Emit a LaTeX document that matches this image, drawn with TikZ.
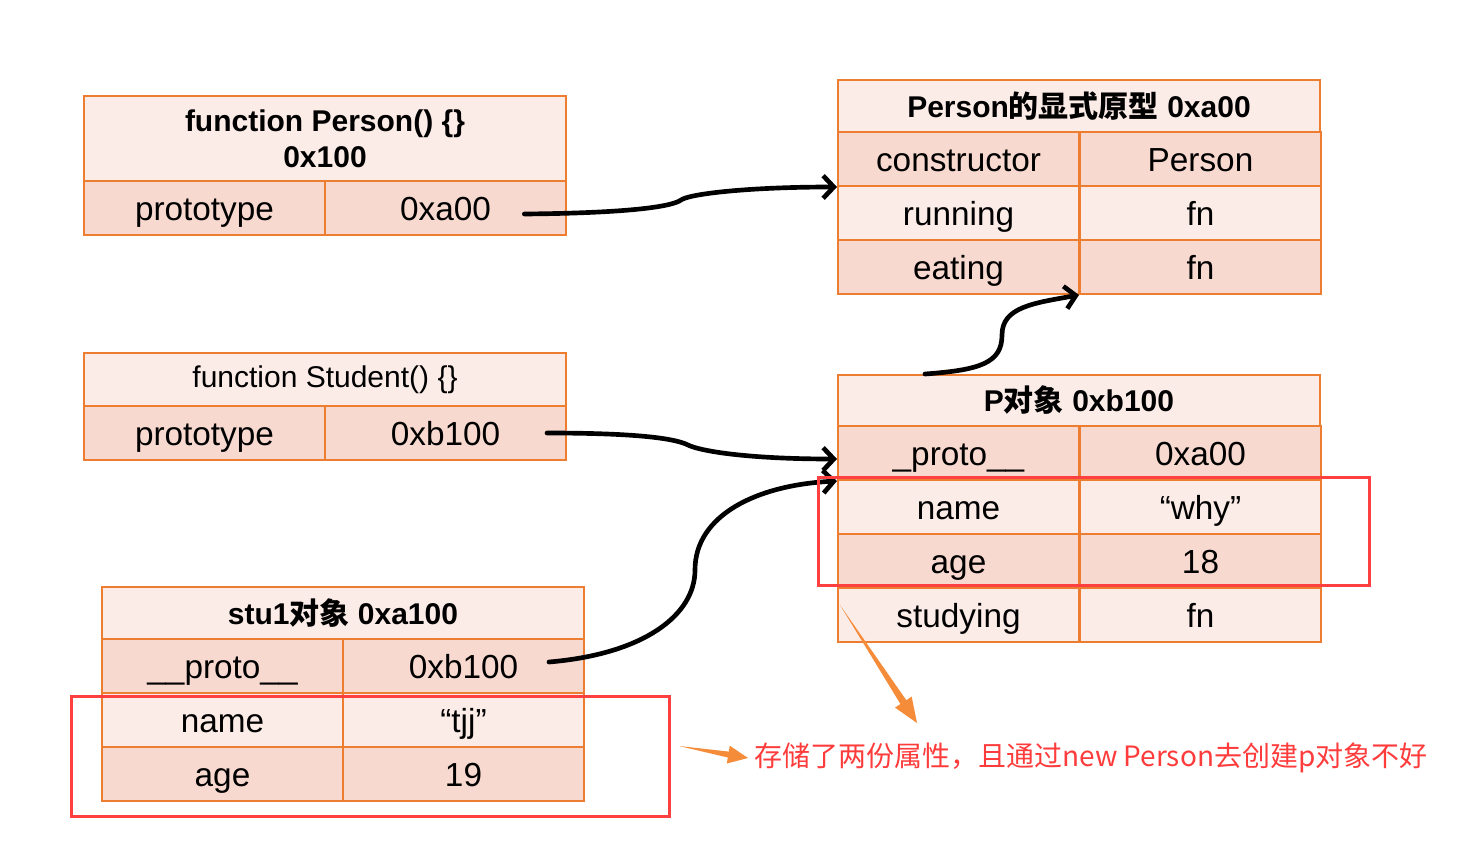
\documentclass[tikz,border=0pt]{standalone}
\usepackage{fontspec}
\setmainfont{Liberation Sans}
\newfontfamily\cjk{Noto Sans CJK SC}
\usetikzlibrary{arrows.meta}
\begin{document}
\begin{tikzpicture}[x=0.75pt, y=-0.75pt, >={Straight Barb[length=8pt,width=17pt]},
  cell/.style={draw=boxorange, line width=1.5pt, anchor=north west, inner sep=0pt,
    minimum width=180.75pt, minimum height=40.5pt, text height=18pt, text depth=0pt,
    font=\fontsize{25pt}{30pt}\selectfont},
  dark/.style={cell, fill=cellDark},
  light/.style={cell, fill=cellLight},
  head/.style={light, minimum width=361.5pt, minimum height=39pt, align=center,
    text height=, text depth=, font=\bfseries\fontsize{22.5pt}{27pt}\selectfont},
  ptr/.style={->, line width=3.5pt, line cap=round},
  redline/.style={draw=boxred, line width=2.25pt}]
  \definecolor{boxorange}{RGB}{237,125,49}
  \definecolor{cellDark}{RGB}{248,217,207}
  \definecolor{cellLight}{RGB}{252,236,232}
  \definecolor{boxred}{RGB}{255,64,64}
  \definecolor{notered}{RGB}{255,60,60}
  \definecolor{noteorange}{RGB}{245,140,58}

  \useasboundingbox (0,0) rectangle (1460,853);

  % function Person
  \node[head, minimum height=63.75pt] (aHead) at (83,95) {function Person() \{\}\\0x100};
  \node[dark] (aKey) at (83,180) {prototype};
  \node[dark] (aVal) at (324,180) {0xa00};

  % Person的显式原型
  \node[head] (bHead) at (837,79) {Person{\cjk 的显式原型} 0xa00};
  \node[dark] (bConsK) at (837,131) {constructor};
  \node[dark] (bConsV) at (1079,131) {Person};
  \node[light] (bRunK) at (837,185) {running};
  \node[light] (bRunV) at (1079,185) {fn};
  \node[dark] (bEatK) at (837,239) {eating};
  \node[dark] (bEatV) at (1079,239) {fn};

  % function Student
  \node[head, minimum height=39.75pt, font=\fontsize{22.5pt}{27pt}\selectfont] (cHead) at (83,352) {function Student() \{\}};
  \node[dark] (cKey) at (83,405) {prototype};
  \node[dark] (cVal) at (324,405) {0xb100};

  % P对象
  \node[head, minimum height=38.25pt] (dHead) at (837,374) {P{\cjk 对象} 0xb100};
  \node[dark] (dProtoK) at (837,425) {\_proto\_\_};
  \node[dark] (dProtoV) at (1079,425) {0xa00};
  \node[light] (dNameK) at (837,479) {name};
  \node[light] (dNameV) at (1079,479) {“why”};
  \node[dark] (dAgeK) at (837,533) {age};
  \node[dark] (dAgeV) at (1079,533) {18};
  \node[light] (dStudyK) at (837,587) {studying};
  \node[light] (dStudyV) at (1079,587) {fn};

  % stu1对象
  \node[head] (eHead) at (101,586) {stu1{\cjk 对象} 0xa100};
  \node[dark] (eProtoK) at (101,638) {\_\_proto\_\_};
  \node[dark] (eProtoV) at (342,638) {0xb100};
  \node[light] (eNameK) at (101,692) {name};
  \node[light] (eNameV) at (342,692) {“tjj”};
  \node[dark] (eAgeK) at (101,746) {age};
  \node[dark] (eAgeV) at (342,746) {19};

  % 指针
  \draw[ptr] ([xshift=-32pt,yshift=-4.5pt]aVal.east) .. controls +(110,-1) and +(-8,6) .. (681,200)
    .. controls +(8,-6) and +(-90,0) .. (bConsK.south west);
  \draw[ptr] ([xshift=66pt]dHead.north west) .. controls +(55,-4) and +(0,28) .. (1002,335)
    .. controls +(0,-28) and +(-45,8) .. (bEatV.south west);
  \draw[ptr] ([xshift=-15pt]cVal.east) .. controls +(95,0) and +(-12,-6) .. (688,445)
    .. controls +(12,6) and +(-90,0) .. ([yshift=-4.5pt]dProtoK.west);
  \draw[ptr] ([xshift=-27pt,yshift=3pt]eProtoV.east) .. controls +(95,-8) and +(0,45) .. (695,570)
    .. controls +(0,-55) and +(-80,4) .. (dProtoK.south west);

  % 标注
  \draw[redline] (818,477) rectangle (1369,585);
  \draw[redline] (71,696) rectangle (669,816);
  \fill[noteorange] (840,605) -- (906.3,700.2) -- (911.7,696.6) -- (917,723) -- (895,707.6) -- (900.4,704) -- cycle;
  \fill[noteorange] (679,746) -- (728.8,751.6) -- (729.8,745.7) -- (748,758) -- (726.8,763.5) -- (727.8,757.5) -- cycle;
  \node[anchor=west, inner sep=0pt, text=notered, font=\cjk\fontsize{21pt}{25pt}\selectfont] (note) at (754,758)
    {存储了两份属性，且通过new Person去创建p对象不好};
\end{tikzpicture}
\end{document}
